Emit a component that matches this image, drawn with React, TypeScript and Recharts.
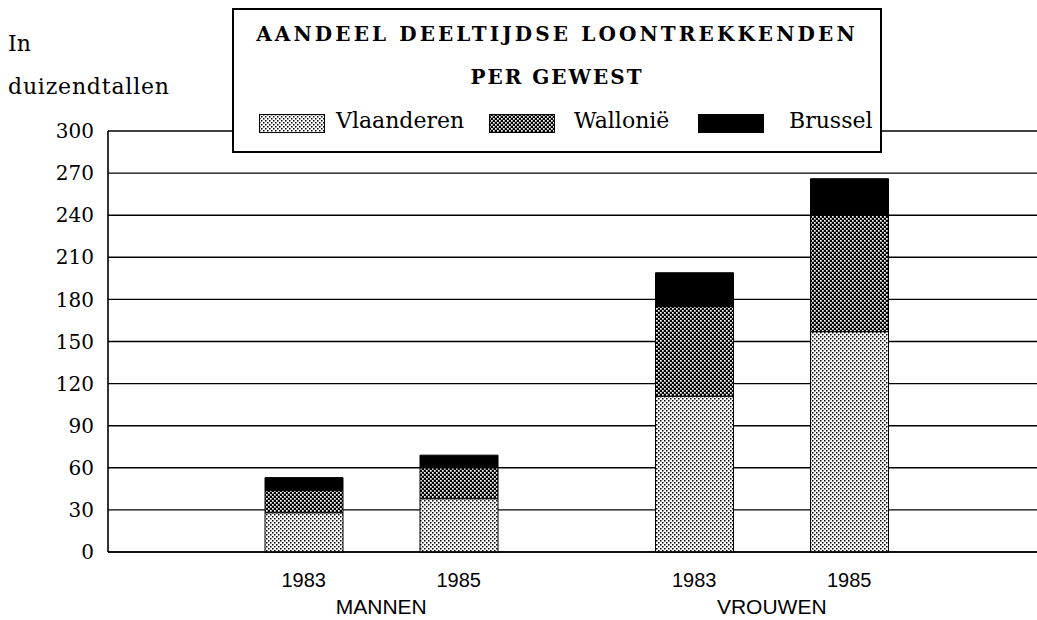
import React from 'react';
import { BarChart, Bar, XAxis, YAxis, CartesianGrid } from 'recharts';

const groups = ['MANNEN', 'VROUWEN'];
const years = ['1983', '1985'];
const vlaanderen1983 = [28, 111];
const wallonie1983 = [16, 64];
const brussel1983 = [9, 24];
const vlaanderen1985 = [38, 157];
const wallonie1985 = [22, 83];
const brussel1985 = [9, 26];
const yTicks = [0, 30, 60, 90, 120, 150, 180, 210, 240, 270, 300];

const data = groups.map((g, i) => ({
  group: g,
  vla1983: vlaanderen1983[i],
  wal1983: wallonie1983[i],
  bru1983: brussel1983[i],
  vla1985: vlaanderen1985[i],
  wal1985: wallonie1985[i],
  bru1985: brussel1985[i],
}));

const BAR = 78;
const GAP = 77;
const serif = '"DejaVu Serif", serif';
const sans = '"Liberation Sans", Arial, sans-serif';

const GroupTick = (props: any) => {
  const { x, y, payload } = props;
  const half = (BAR + GAP) / 2;
  return (
    <g>
      {years.map((yr, j) => (
        <text key={yr} x={x + (j === 0 ? -half : half)} y={y + 35} textAnchor="middle" fontFamily={sans} fontSize={20} fill="#000">
          {yr}
        </text>
      ))}
      <text x={x} y={y + 62} textAnchor="middle" fontFamily={sans} fontSize={21} fill="#000">
        {payload.value}
      </text>
    </g>
  );
};

const Swatch = ({ fill, left }: { fill: string; left: number }) => (
  <svg style={{ position: 'absolute', left, top: 104 }} width={66} height={19}>
    <rect x={0.5} y={0.5} width={65} height={18} fill={fill} stroke="#000" />
  </svg>
);

const App: React.FC = () => {
  return (
    <div style={{ position: 'absolute', left: 0, top: 0, width: 1037, height: 620, background: '#fff' }}>
      <svg width={0} height={0} style={{ position: 'absolute' }}>
        <defs>
          <pattern id="patVla" width={4} height={4} patternUnits="userSpaceOnUse">
            <rect width={4} height={4} fill="#fff" />
            <rect x={0} y={0} width={1.5} height={1.5} fill="#000" />
            <rect x={2} y={2} width={1.5} height={1.5} fill="#000" />
          </pattern>
          <pattern id="patWal" width={4} height={4} patternUnits="userSpaceOnUse">
            <rect width={4} height={4} fill="#000" />
            <rect x={0} y={0} width={1.7} height={1.7} fill="#fff" />
            <rect x={2} y={2} width={1.7} height={1.7} fill="#fff" />
          </pattern>
        </defs>
      </svg>

      <div style={{ position: 'absolute', left: 8, top: 31, fontFamily: serif, fontSize: 22 }}>In</div>
      <div style={{ position: 'absolute', left: 8, top: 74, fontFamily: serif, fontSize: 22, letterSpacing: 0.8 }}>duizendtallen</div>

      <BarChart width={1037} height={620} data={data} margin={{ top: 131, right: 0, left: 0, bottom: 0 }} barSize={BAR} barGap={GAP}>
        <CartesianGrid vertical={false} stroke="#000" strokeWidth={1.4} />
        <XAxis
          dataKey="group"
          height={68}
          padding={{ left: 78, right: 70 }}
          axisLine={{ stroke: '#000', strokeWidth: 1.6 }}
          tickLine={false}
          tickSize={0}
          tickMargin={0}
          tick={<GroupTick />}
          interval={0}
        />
        <YAxis
          width={108}
          domain={[0, 300]}
          ticks={yTicks}
          interval={0}
          axisLine={{ stroke: '#000', strokeWidth: 1.6 }}
          tickLine={false}
          tickSize={0}
          tickMargin={14}
          tick={{ fill: '#000', fontFamily: serif, fontSize: 20 }}
        />
        <Bar dataKey="vla1983" stackId="1983" fill="url(#patVla)" stroke="#000" strokeWidth={1} isAnimationActive={false} />
        <Bar dataKey="wal1983" stackId="1983" fill="url(#patWal)" stroke="#000" strokeWidth={1} isAnimationActive={false} />
        <Bar dataKey="bru1983" stackId="1983" fill="#000" stroke="#000" strokeWidth={1} isAnimationActive={false} />
        <Bar dataKey="vla1985" stackId="1985" fill="url(#patVla)" stroke="#000" strokeWidth={1} isAnimationActive={false} />
        <Bar dataKey="wal1985" stackId="1985" fill="url(#patWal)" stroke="#000" strokeWidth={1} isAnimationActive={false} />
        <Bar dataKey="bru1985" stackId="1985" fill="#000" stroke="#000" strokeWidth={1} isAnimationActive={false} />
      </BarChart>

      <div
        style={{
          position: 'absolute',
          left: 232,
          top: 8,
          width: 646,
          height: 141,
          border: '2px solid #000',
          background: '#fff',
          fontFamily: serif,
          color: '#000',
        }}
      >
        <div style={{ position: 'absolute', left: 0, right: 0, top: 12, textAlign: 'center', fontWeight: 'bold', fontSize: 20, letterSpacing: 3.1 }}>
          AANDEEL DEELTIJDSE LOONTREKKENDEN
        </div>
        <div style={{ position: 'absolute', left: 0, right: 0, top: 55, textAlign: 'center', fontWeight: 'bold', fontSize: 20, letterSpacing: 2 }}>
          PER GEWEST
        </div>
        <Swatch fill="url(#patVla)" left={25} />
        <div style={{ position: 'absolute', left: 102, top: 98, fontSize: 22 }}>Vlaanderen</div>
        <Swatch fill="url(#patWal)" left={255} />
        <div style={{ position: 'absolute', left: 340, top: 98, fontSize: 22 }}>Wallonië</div>
        <Swatch fill="#000" left={464} />
        <div style={{ position: 'absolute', left: 555, top: 98, fontSize: 22 }}>Brussel</div>
      </div>
    </div>
  );
};

export default App;
